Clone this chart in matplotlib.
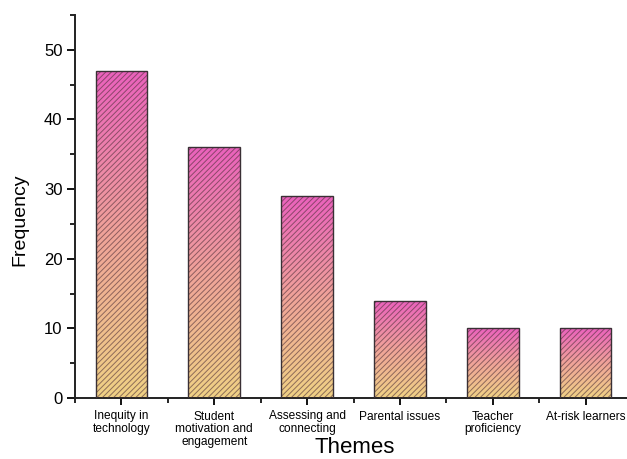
import matplotlib
matplotlib.use("Agg")
import matplotlib.pyplot as plt
import numpy as np
from matplotlib.colors import LinearSegmentedColormap
from matplotlib.ticker import MultipleLocator

categories = ["Inequity in\ntechnology", "Student\nmotivation and\nengagement",
              "Assessing and\nconnecting", "Parental issues", "Teacher\nproficiency",
              "At-risk learners"]
values = [47, 36, 29, 14, 10, 10]

plt.rcParams['font.family'] = ['Liberation Sans', 'DejaVu Sans']
plt.rcParams['hatch.linewidth'] = 0.7

fig = plt.figure(figsize=(6.27, 4.59), dpi=100)
ax = fig.add_axes([75/627, 1 - 398/459, (632-75)/627, (398-15)/459])

cmap = LinearSegmentedColormap.from_list("g", [(0.94, 0.82, 0.52), (0.94, 0.64, 0.60), (0.92, 0.38, 0.74)])
grad = np.linspace(0, 1, 256).reshape(-1, 1)

x = np.arange(len(categories))
width = 0.555
bars = ax.bar(x, values, width=width, facecolor='none', edgecolor='none', zorder=2)
for b in bars:
    x0, y0 = b.get_x(), b.get_y()
    w, h = b.get_width(), b.get_height()
    im = ax.imshow(grad, cmap=cmap, aspect='auto', origin='lower',
                   extent=[x0, x0 + w, y0, y0 + h], zorder=2, interpolation='bilinear')
    im.set_clip_path(b)
ax.bar(x, values, width=width, facecolor='none', edgecolor=(0.30, 0.18, 0.22, 0.6),
       linewidth=0, hatch='//////', zorder=3)
ax.bar(x, values, width=width, facecolor='none', edgecolor='#3a3035',
       linewidth=1.0, zorder=4)

ax.set_xlim(-0.5, 5.5)
ax.set_ylim(0, 55)
ax.set_xticks(x)
ax.set_xticklabels(categories, fontsize=8.6, linespacing=1.1)
ax.xaxis.set_minor_locator(MultipleLocator(1, offset=0.5))
ax.yaxis.set_major_locator(MultipleLocator(10))
ax.yaxis.set_minor_locator(MultipleLocator(5))
ax.tick_params(axis='y', which='major', labelsize=12, length=6, width=1.3, direction='out', pad=3)
ax.tick_params(axis='y', which='minor', length=3.5, width=1.2, direction='out')
ax.tick_params(axis='x', which='major', length=5, width=1.3, direction='out', pad=4)
ax.tick_params(axis='x', which='minor', length=3.5, width=1.2, direction='out')

for s in ['top', 'right']:
    ax.spines[s].set_visible(False)
for s in ['left', 'bottom']:
    ax.spines[s].set_linewidth(1.4)
    ax.spines[s].set_color('#222222')

ax.set_xlabel("Themes", fontsize=16)
ax.xaxis.set_label_coords((355-75)/557, (398-437)/383)
ax.set_ylabel("Frequency", fontsize=14)
ax.yaxis.set_label_coords(-0.083, 0.465)

fig.savefig("out.png", dpi=100)
